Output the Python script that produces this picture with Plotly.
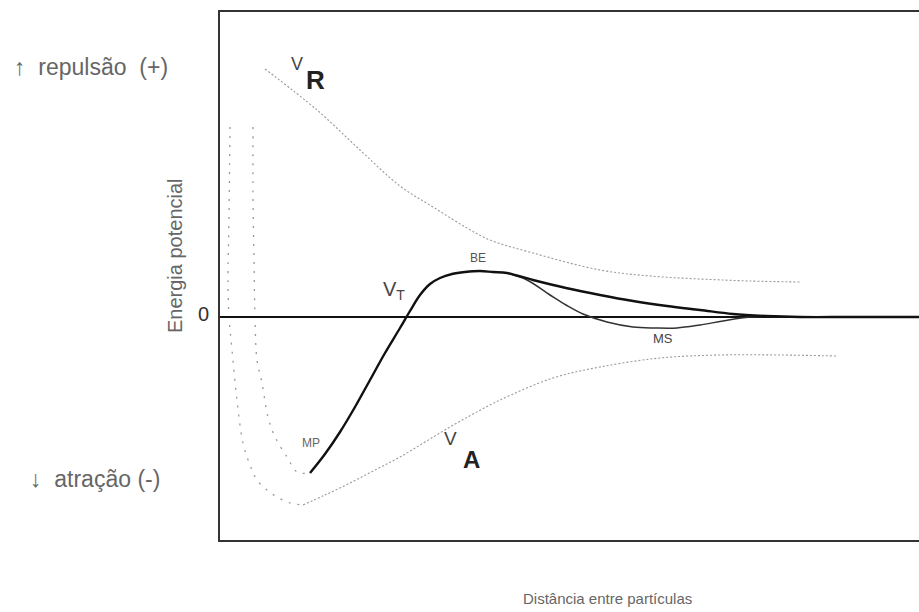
import plotly.graph_objects as go

# Curves (x: distance, y: potential energy, zero = 0)
vr_x = [265, 317, 360, 400, 433, 467, 490, 533, 600, 650, 700, 750, 800]
vr_y = [248, 207, 167, 131, 110, 89, 77, 64, 47, 41, 38, 36, 35]

va_left_x = [230, 229, 228, 229, 232, 237, 243, 250, 257, 267, 277, 290, 303]
va_left_y = [190, 100, 34, 0, -33, -83, -126, -148, -163, -173, -180, -186, -188]
va_right_x = [303, 325, 350, 375, 400, 425, 450, 475, 500, 553, 600, 660, 720, 780, 837]
va_right_y = [-188, -178, -166, -153, -140, -125, -110, -96, -83, -61, -50, -41, -38, -38, -39]

inner_x = [253, 253, 254, 255, 257, 262, 268, 275, 287, 297, 308]
inner_y = [190, 120, 57, 0, -43, -66, -100, -120, -140, -155, -156]

vt_x = [310, 325, 340, 355, 370, 385, 400, 410, 420, 430, 440, 452, 465, 480, 493, 507,
        533, 566, 600, 633, 667, 700, 733, 766, 800, 850, 919]
vt_y = [-156, -137, -115, -90, -63, -36, -11, 6, 22, 33, 39, 43, 45, 46, 45, 44,
        37, 29, 22, 16, 11, 7, 3, 1, 0, 0, 0]

ms_x = [507, 527, 550, 566, 583, 607, 633, 655, 677, 700, 723, 750, 800]
ms_y = [44, 37, 22, 12, 3, -5, -10, -11, -11, -8, -4, 0, 0]

zero_x = [220, 919]
zero_y = [0, 0]

fig = go.Figure()
dot_grey = "#999999"
fig.add_trace(go.Scatter(x=vr_x, y=vr_y, mode="lines", line=dict(color=dot_grey, width=1.1, dash="2px,2px", shape="spline")))
fig.add_trace(go.Scatter(x=va_left_x, y=va_left_y, mode="lines", line=dict(color=dot_grey, width=1.3, dash="2px,7px", shape="spline")))
fig.add_trace(go.Scatter(x=va_right_x, y=va_right_y, mode="lines", line=dict(color=dot_grey, width=1.1, dash="2px,2px", shape="spline")))
fig.add_trace(go.Scatter(x=inner_x, y=inner_y, mode="lines", line=dict(color=dot_grey, width=1.3, dash="2px,7px", shape="spline")))
fig.add_trace(go.Scatter(x=zero_x, y=zero_y, mode="lines", line=dict(color="#111", width=2)))
fig.add_trace(go.Scatter(x=ms_x, y=ms_y, mode="lines", line=dict(color="#333", width=1.5, shape="spline")))
fig.add_trace(go.Scatter(x=vt_x, y=vt_y, mode="lines", line=dict(color="#111", width=2.4, shape="spline")))

font = "Liberation Sans, Arial, sans-serif"
grey = "#666"

def ann(px, py, text, size=14, color=grey, xanchor="center", **kw):
    # position given in page pixels, converted to paper coordinates
    fig.add_annotation(x=(px - 220) / 699, y=(540 - py) / 528, xref="paper", yref="paper",
                       text=text, showarrow=False, xanchor=xanchor, yanchor="middle",
                       font=dict(family=font, size=size, color=color), **kw)

ann(12, 67, "↑  repulsão  (+)", 23, xanchor="left")
ann(28, 479, "↓  atração (-)", 23, xanchor="left")
ann(175, 256, "Energia potencial", 20, textangle=-90)
ann(203, 314, "0", 20, color="#333")
ann(607, 598, "Distância entre partículas", 15)
ann(297, 64, "V", 18, color="#444")
ann(315, 80, "<b>R</b>", 26, color="#222")
ann(394, 291, "V<sub>T</sub>", 20, color="#444")
ann(450, 438, "V", 19, color="#444")
ann(471, 459, "<b>A</b>", 24, color="#222")
ann(478, 258, "BE", 12, color="#555")
ann(663, 338, "MS", 13, color="#444")
ann(311, 443, "MP", 12, color="#666")

fig.update_layout(
    width=919, height=612,
    margin=dict(l=220, r=0, t=12, b=72),
    paper_bgcolor="white", plot_bgcolor="white",
    showlegend=False,
    xaxis=dict(range=[220, 919], showgrid=False, zeroline=False, showticklabels=False, ticks="",
               showline=True, linecolor="#333", linewidth=2, mirror=True),
    yaxis=dict(range=[-223, 305], showgrid=False, zeroline=False, showticklabels=False, ticks="",
               showline=True, linecolor="#333", linewidth=2, mirror=False),
)
fig.write_html("out.html")
